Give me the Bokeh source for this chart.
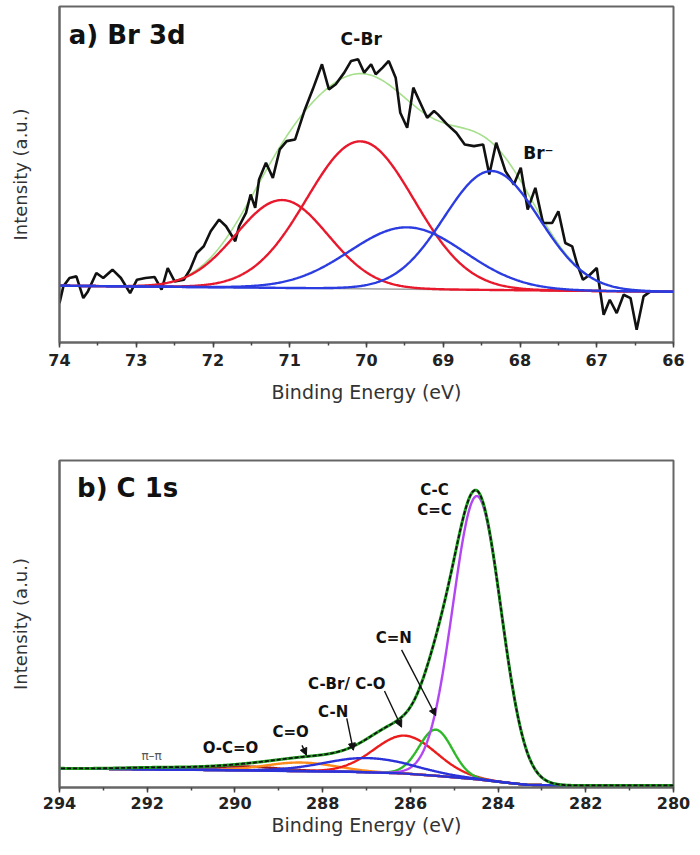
import numpy as np
from bokeh.plotting import figure
from bokeh.layouts import column
from bokeh.models import Range1d, SingleIntervalTicker, FixedTicker, Arrow, NormalHead, Label
from bokeh.embed import file_html
from bokeh.resources import INLINE

# ---------------- data: panel a (Br 3d) ----------------
br_be = [74.00, 73.95, 73.87, 73.78, 73.69, 73.63, 73.52, 73.43, 73.31, 73.20,
         73.08, 72.99, 72.88, 72.76, 72.67, 72.59, 72.50, 72.38, 72.30, 72.21,
         72.12, 72.03, 71.92, 71.83, 71.71, 71.66, 71.57, 71.51, 71.45, 71.40,
         71.31, 71.22, 71.13, 71.04, 70.93, 70.81, 70.70, 70.58, 70.49, 70.40,
         70.29, 70.20, 70.11, 70.03, 69.94, 69.88, 69.79, 69.71, 69.62, 69.56,
         69.47, 69.39, 69.30, 69.21, 69.12, 69.07, 68.95, 68.83, 68.72, 68.60,
         68.48, 68.40, 68.31, 68.19, 68.08, 67.99, 67.90, 67.80, 67.70, 67.58,
         67.50, 67.41, 67.32, 67.26, 67.18, 67.09, 67.00, 66.91, 66.83, 66.74,
         66.65, 66.56, 66.48, 66.39, 66.30]
br_counts = [-52, -2, 23, 28, -37, -17, 38, 23, 48, 23,
             -22, 18, 23, 26, -12, 53, 13, 18, 48, 98,
             118, 163, 198, 178, 133, 178, 218, 273, 233, 318,
             368, 323, 408, 433, 438, 523, 588, 663, 588, 603,
             638, 673, 678, 638, 663, 633, 653, 673, 623, 518,
             473, 593, 548, 503, 523, 513, 483, 458, 423, 418,
             423, 333, 428, 343, 303, 353, 228, 293, 188, 188,
             223, 128, 118, 68, 18, 33, 53, -87, -42, -82,
             -27, -37, -132, -32, -17]
br_peak_labels = ["C-Br 3d5/2", "C-Br 3d3/2", "Br- 3d3/2", "Br- 3d5/2"]
br_peak_centers = [71.10, 70.08, 69.47, 68.37]
br_peak_heights = [263, 441, 185, 356]
br_peak_sigmas = [0.60, 0.70, 0.75, 0.62]
br_bg_be = [66.0, 74.0]
br_bg = [-18, 0]

# ---------------- data: panel b (C 1s) ----------------
c_peak_labels = ["C-C/C=C", "C=N", "C-Br/C-O", "C-N", "C=O", "O-C=O", "pi-pi"]
c_peak_centers = [284.48, 285.42, 286.12, 286.95, 288.50, 289.80, 291.60]
c_peak_heights = [860, 140, 115, 43, 26, 12, 6]
c_peak_sigmas = [0.55, 0.38, 0.71, 1.00, 0.80, 0.80, 0.90]
c_bg_be = [280.0, 282.3, 283.33, 283.84, 284.48, 285.36, 286.18, 287.4, 290.46, 294.0]
c_bg = [6, 6, 8, 15, 25, 35, 43, 48, 53, 58]

FONT = "DejaVu Sans"
FRAME = "#666666"


def gauss(xs, c, h, s):
    return h * np.exp(-0.5 * ((xs - c) / s) ** 2)


def style(p, interval, title_standoff, label_standoff):
    p.xgrid.visible = False
    p.ygrid.visible = False
    p.outline_line_color = FRAME
    p.outline_line_width = 2
    ax = p.xaxis[0]
    ax.ticker = SingleIntervalTicker(interval=interval, num_minor_ticks=2)
    ax.axis_line_color = FRAME
    ax.axis_line_width = 2
    ax.major_tick_in = 0
    ax.major_tick_out = 5
    ax.minor_tick_in = 0
    ax.minor_tick_out = 3
    ax.major_tick_line_color = "#444444"
    ax.major_tick_line_width = 1.5
    ax.minor_tick_line_color = "#444444"
    ax.minor_tick_line_width = 1.5
    ax.major_label_text_font = FONT
    ax.major_label_text_font_style = "bold"
    ax.major_label_text_font_size = "16px"
    ax.major_label_text_color = "#222222"
    ax.major_label_standoff = label_standoff
    ax.axis_label = "Binding Energy (eV)"
    ax.axis_label_text_font = FONT
    ax.axis_label_text_font_style = "normal"
    ax.axis_label_text_font_size = "19px"
    ax.axis_label_text_color = "#333333"
    ax.axis_label_standoff = title_standoff
    ay = p.yaxis[0]
    ay.ticker = FixedTicker(ticks=[])
    ay.major_tick_out = 0
    ay.major_tick_in = 0
    ay.minor_tick_out = 0
    ay.major_label_standoff = 0
    ay.axis_line_color = FRAME
    ay.axis_line_width = 2
    ay.axis_label = "Intensity (a.u.)"
    ay.axis_label_text_font = FONT
    ay.axis_label_text_font_style = "normal"
    ay.axis_label_text_font_size = "18px"
    ay.axis_label_text_color = "#333333"
    ay.axis_label_standoff = 29


# ---------------- panel a ----------------
pa = figure(width=690, height=408, x_range=Range1d(74, 66), y_range=Range1d(-170, 836),
            output_backend="svg", toolbar_location=None,
            min_border_left=59, min_border_right=17, min_border_top=6, min_border_bottom=66)
style(pa, 1, 12, 6)

xa = np.linspace(66, 74, 600)
bga = np.interp(xa, br_bg_be, br_bg)
comps_a = [gauss(xa, c, h, s) for c, h, s in zip(br_peak_centers, br_peak_heights, br_peak_sigmas)]
env_a = bga + sum(comps_a)

pa.line(br_bg_be, br_bg, line_color="#a0a0a0", line_width=1.5)
pa.line(xa, env_a, line_color="#a6e08c", line_width=1.6)
pa.line(br_be, br_counts, line_color="#111111", line_width=2.6)
colors_a = ["#e8192c", "#e8192c", "#2b3ce0", "#2b3ce0"]
for comp, col in zip(comps_a, colors_a):
    pa.line(xa, bga + comp, line_color=col, line_width=2.4)

pa.add_layout(Label(x=73.88, y=750, text="a) Br 3d", text_font=FONT, text_font_style="bold",
                    text_font_size="26px", text_baseline="middle", text_align="left", text_color="#111111"))
pa.add_layout(Label(x=70.07, y=740, text="C-Br", text_font=FONT, text_font_style="bold",
                    text_font_size="17px", text_baseline="middle", text_align="center", text_color="#111111"))
pa.add_layout(Label(x=67.76, y=396, text="Br\u207b", text_font=FONT, text_font_style="bold",
                    text_font_size="17px", text_baseline="middle", text_align="center", text_color="#111111"))

# ---------------- panel b ----------------
pb = figure(width=690, height=431, x_range=Range1d(294, 280), y_range=Range1d(0, 993),
            output_backend="svg", toolbar_location=None,
            min_border_left=59, min_border_right=17, min_border_top=52, min_border_bottom=52)
style(pb, 2, 2, 4)

xb = np.linspace(280, 294, 900)
bgb = np.interp(xb, c_bg_be, c_bg)
comps_b = [gauss(xb, c, h, s) for c, h, s in zip(c_peak_centers, c_peak_heights, c_peak_sigmas)]
env_b = bgb + sum(comps_b)

colors_b = ["#b246f2", "#2fb82a", "#ec1c1c", "#2b33d8", "#ff8c1a", "#9b1b1b", "#d040d0"]
order = [6, 5, 4, 2, 1, 0, 3]
for i in order:
    pb.line(xb, bgb + comps_b[i], line_color=colors_b[i], line_width=2.4)
pb.line(c_bg_be, c_bg, line_color="#2b33d8", line_width=2.4)
pb.line(xb, env_b, line_color="#1e9e1e", line_width=3.0)
pb.line(xb, env_b, line_color="#111111", line_width=1.8, line_dash="4 2")

pb.add_layout(Label(x=293.6, y=908, text="b) C 1s", text_font=FONT, text_font_style="bold",
                    text_font_size="26px", text_baseline="middle", text_align="left", text_color="#111111"))
txt = [("C-C", 285.45, 904), ("C=C", 285.45, 844), ("C=N", 286.38, 454),
       ("C-Br/ C-O", 287.45, 314), ("C-N", 287.76, 229), ("C=O", 288.73, 169),
       ("O-C=O", 290.10, 121)]
for t, x, y in txt:
    pb.add_layout(Label(x=x, y=y, text=t, text_font=FONT, text_font_style="bold", text_font_size="15px",
                        text_baseline="middle", text_align="center", text_color="#111111"))
pb.add_layout(Label(x=291.9, y=95, text="\u03c0\u2013\u03c0", text_font=FONT, text_font_size="12px",
                    text_baseline="middle", text_align="center", text_color="#555555"))

arrows = [(286.20, 418, 285.42, 218), (286.59, 293, 286.20, 183),
          (287.45, 210, 287.30, 113), (288.47, 128, 288.37, 98)]
for x0, y0, x1, y1 in arrows:
    pb.add_layout(Arrow(end=NormalHead(size=7, fill_color="#111111", line_color="#111111"),
                        x_start=x0, y_start=y0, x_end=x1, y_end=y1,
                        line_color="#111111", line_width=1.4))

layout = column(pa, pb, spacing=0)
open("out.html", "w").write(file_html(layout, INLINE))
